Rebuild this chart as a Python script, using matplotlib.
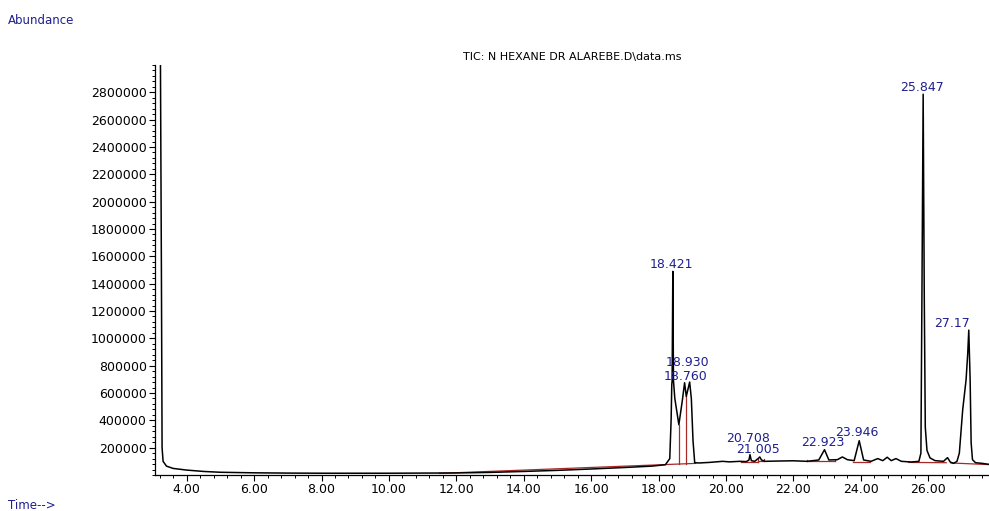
#!/usr/bin/env python3
import matplotlib
matplotlib.use("Agg")
import matplotlib.pyplot as plt
from matplotlib.ticker import MultipleLocator, FixedLocator, FuncFormatter

# chromatogram trace: retention time (min), abundance
rt = [3.22, 3.25, 3.27, 3.30, 3.40, 3.60, 4.00, 4.50, 5.00, 6.00, 7.00, 8.00,
      10.00, 12.00, 13.00, 14.00, 15.00, 16.00, 17.00, 17.80, 18.20, 18.33,
      18.37, 18.39, 18.40, 18.421, 18.44, 18.48, 18.60, 18.70, 18.77, 18.82,
      18.92, 18.97, 19.02, 19.07, 19.20, 19.50, 19.90, 20.10, 20.40, 20.60,
      20.68, 20.71, 20.75, 20.85, 20.95, 21.00, 21.05, 21.15, 21.50, 22.00,
      22.40, 22.75, 22.92, 23.05, 23.30, 23.45, 23.60, 23.80, 23.95, 24.08,
      24.30, 24.50, 24.65, 24.78, 24.90, 25.04, 25.20, 25.50, 25.72, 25.78,
      25.81, 25.847, 25.88, 25.91, 25.96, 26.05, 26.20, 26.45, 26.57, 26.65,
      26.75, 26.85, 26.92, 27.02, 27.12, 27.17, 27.20, 27.24, 27.27, 27.31,
      27.40, 27.60, 27.80]
abund = [3100000, 1500000, 200000, 100000, 65000, 48000, 36000, 26000, 20000,
         16000, 14000, 13000, 13000, 15000, 19000, 26000, 34000, 44000, 55000,
         65000, 75000, 120000, 400000, 660000, 690000, 1490000, 690000, 560000,
         368000, 540000, 675000, 575000, 680000, 560000, 250000, 90000, 88000,
         92000, 100000, 96000, 100000, 98000, 110000, 149000, 105000, 100000,
         120000, 132000, 110000, 100000, 102000, 104000, 100000, 110000, 185000,
         110000, 112000, 132000, 112000, 105000, 251000, 110000, 100000, 120000,
         105000, 130000, 105000, 120000, 100000, 95000, 100000, 160000, 1300000,
         2786000, 1300000, 350000, 180000, 125000, 105000, 100000, 127000,
         95000, 85000, 100000, 160000, 478000, 697000, 894000, 1060000, 700000,
         236000, 112000, 90000, 85000, 78000]

# integration baselines (red): start time, start abundance, end time, end abundance
base_t0 = [11.50, 18.60, 18.82, 20.45, 20.96, 20.96, 21.14, 22.40, 22.40, 23.22,
           23.78, 25.42, 26.67]
base_a0 = [12000, 80000, 84000, 93000, 93000, 100000, 100000, 100000, 100000, 100000,
           98000, 92000, 88000]
base_t1 = [19.10, 18.60, 18.82, 20.96, 20.96, 21.14, 21.14, 23.22, 22.40, 23.22,
           24.27, 26.53, 27.80]
base_a1 = [85000, 368000, 575000, 93000, 118000, 100000, 118000, 100000, 112000, 112000,
           98000, 90000, 76000]

# peak labels: text, anchor time, anchor abundance
peak_txt = ["18.421", "18.760", "18.930", "20.708", "21.005", "22.923",
            "23.946", "25.847", "27.17"]
peak_rt = [18.42, 18.77, 18.92, 20.71, 21.00, 22.92, 23.95, 25.847, 27.20]
peak_ab = [1490000, 675000, 680000, 149000, 132000, 185000, 251000, 2786000,
           1060000]
# label offsets in pixels (dx, dy) and alignment
lab_dx = [-1, 1, -2, -2, -2, -2, -2, -1, -35]
lab_dy = [7, 6, 20, 16, 7, 7, 8, 7, 7]
lab_ha = ["center"] * 8 + ["left"]

BLUE = "#1f1f8f"
RED = "#a82828"
FONT = "DejaVu Sans"

plt.rcParams["font.family"] = FONT

fig = plt.figure(figsize=(9.89, 5.11), dpi=100)
ax = fig.add_axes([155 / 989, 36 / 511, 1 - 155 / 989, (475 - 65) / 511])

ax.plot(rt, abund, color="black", lw=1.1, zorder=3)
for t0, a0, t1, a1 in zip(base_t0, base_a0, base_t1, base_a1):
  ax.plot([t0, t1], [a0, a1], color=RED, lw=0.9, zorder=2)

for txt, t, a, dx, dy, ha in zip(peak_txt, peak_rt, peak_ab, lab_dx, lab_dy, lab_ha):
  ax.annotate(txt, (t, a), xytext=(dx, dy), textcoords="offset pixels",
              ha=ha, va="center", color=BLUE, fontsize=9,
              annotation_clip=False, zorder=4)

ax.set_xlim(3.06, 27.80)
ax.set_ylim(0, 3000000)

ax.xaxis.set_major_locator(MultipleLocator(2))
ax.xaxis.set_minor_locator(MultipleLocator(0.4))
ax.xaxis.set_major_formatter(FuncFormatter(lambda v, p: "%.2f" % v))
ax.yaxis.set_major_locator(FixedLocator(range(200000, 2800001, 200000)))
ax.yaxis.set_minor_locator(MultipleLocator(40000))
ax.yaxis.set_major_formatter(FuncFormatter(lambda v, p: "%d" % v))

ax.tick_params(which="major", direction="out", length=4, width=0.8,
               labelsize=9, pad=2)
ax.tick_params(which="minor", direction="out", length=2.2, width=0.7)

ax.spines["top"].set_visible(False)
ax.spines["right"].set_visible(False)
ax.spines["left"].set_linewidth(0.9)
ax.spines["bottom"].set_linewidth(0.9)

fig.text(572 / 989, 1 - 57 / 511, "TIC: N HEXANE DR ALAREBE.D\\data.ms",
         ha="center", va="center", fontsize=8, color="black")
fig.text(8 / 989, 1 - 21 / 511, "Abundance", ha="left", va="center",
         fontsize=8.5, color=BLUE)
fig.text(8 / 989, 1 - 505 / 511, "Time-->", ha="left", va="center",
         fontsize=8.5, color=BLUE)

fig.savefig("out.png", dpi=100)
